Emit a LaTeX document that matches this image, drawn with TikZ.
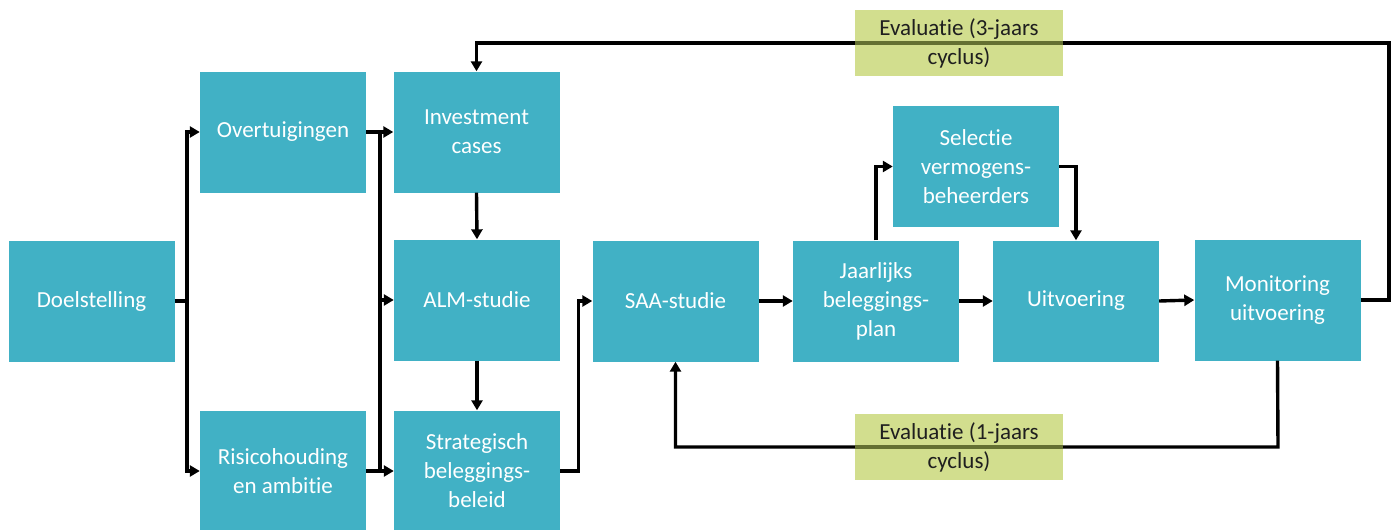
\documentclass[tikz,border=0pt]{standalone}
\usepackage{fontspec}
\setmainfont{Carlito}[Ligatures=NoCommon]
\usetikzlibrary{arrows.meta}
\definecolor{boxteal}{HTML}{41B1C5}
\definecolor{evalgreen}{HTML}{D2DE8E}
\definecolor{evalline}{RGB}{100,112,50}

\begin{document}
\begin{tikzpicture}[x=1pt,y=-1pt,
    stap/.style={fill=boxteal,text=white,inner sep=0pt,minimum width=166pt,minimum height=121pt,
        align=center,font=\fontsize{23}{29}\selectfont},
    evalbox/.style={fill=evalgreen,text=black!88,inner sep=0pt,minimum width=208pt,minimum height=66pt,
        align=center,font=\fontsize{23}{29}\selectfont},
    lijn/.style={line width=3.4pt},
    pijl/.style={line width=3.4pt,-{Triangle[length=10pt,width=11pt]}}]
    \useasboundingbox (0,0) rectangle (1395,530);
    \node[stap] (doel) at (91.5,301) {Doelstelling};
    \node[stap] (overt) at (283,132) {Overtuigingen};
    \node[stap] (risico) at (283,471) {Risicohouding\\en ambitie};
    \node[stap] (invest) at (476.5,132) {Investment\\cases};
    \node[stap] (alm) at (477,300) {ALM-studie};
    \node[stap] (strat) at (477,471) {Strategisch\\beleggings-\\beleid};
    \node[stap] (saa) at (675.5,301) {SAA-studie};
    \node[stap] (jaar) at (876,301) {Jaarlijks\\beleggings-\\plan};
    \node[stap] (selectie) at (976,166.5) {Selectie\\vermogens-\\beheerders};
    \node[stap] (uitv) at (1076,301) {Uitvoering};
    \node[stap] (monit) at (1277.5,300) {Monitoring\\uitvoering};
    \coordinate (splitA) at (187,301);
    \coordinate (busB) at (380,300);
    \coordinate (loopR) at (1389,43);
    \coordinate (loopB) at (1278,447);
    \draw[lijn] (doel.east) -- (splitA);
    \draw[pijl] (splitA) |- (overt.west);
    \draw[pijl] (splitA) |- (risico.west);
    \draw[pijl] (overt.east) -- (invest.west);
    \draw[pijl] (risico.east) -- (strat.west);
    \draw[lijn] (overt.east -| busB) -- (risico.east -| busB);
    \draw[pijl] (busB) -- (alm.west);
    \draw[pijl] (invest.south) -- (alm.north);
    \draw[pijl] (alm.south) -- (strat.north);
    \draw[pijl] (strat.east) -- ++(18,0) |- (saa.west);
    \draw[pijl] (saa.east) -- (jaar.west);
    \draw[pijl] (jaar.east) -- (uitv.west);
    \draw[pijl] (uitv.east) -- (monit.west);
    \draw[pijl] (jaar.north) |- (selectie.west);
    \draw[pijl] (selectie.east) -| (uitv.north);
    \draw[pijl] (monit.east) -| (loopR) -| (invest.north);
    \draw[pijl] (monit.south) -- (loopB) -| (saa.south);
    \node[evalbox] (eval3) at (959,43) {Evaluatie (3-jaars\\cyclus)};
    \node[evalbox] (eval1) at (959,447) {Evaluatie (1-jaars\\cyclus)};
    \coordinate (e3a) at (855,41.3);
    \coordinate (e3b) at (1063,44.7);
    \coordinate (e1a) at (855,445.3);
    \coordinate (e1b) at (1063,448.7);
    \fill[evalline] (e3a) rectangle (e3b);
    \fill[evalline] (e1a) rectangle (e1b);
\end{tikzpicture}
\end{document}
